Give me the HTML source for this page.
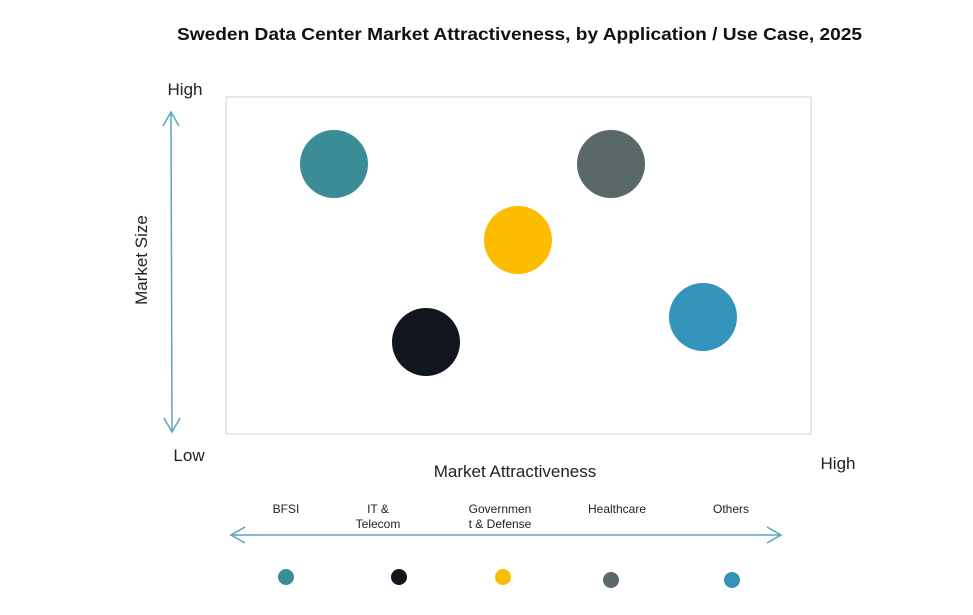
<!DOCTYPE html>
<html><head><meta charset="utf-8"><style>
body{margin:0;background:#fff;}
svg text{font-family:"Liberation Sans",sans-serif;}
</style></head><body>
<svg width="973" height="610" viewBox="0 0 973 610" xmlns="http://www.w3.org/2000/svg">
<rect width="973" height="610" fill="#fff"/>
<text x="177" y="40" textLength="685" lengthAdjust="spacingAndGlyphs" font-size="17.5" font-weight="bold" fill="#111">Sweden Data Center Market Attractiveness,  by Application / Use Case, 2025</text>
<rect x="226" y="97" width="585" height="337" fill="none" stroke="#d9d9d9" stroke-width="1.2"/>
<text x="185" y="95" text-anchor="middle" font-size="17" fill="#222">High</text>
<text x="189" y="461" text-anchor="middle" font-size="17" fill="#222">Low</text>
<text x="838" y="469" text-anchor="middle" font-size="17" fill="#222">High</text>
<text x="515" y="477" text-anchor="middle" font-size="17" fill="#222">Market Attractiveness</text>
<text transform="translate(147,260) rotate(-90)" text-anchor="middle" font-size="17" fill="#222">Market Size</text>
<g stroke="#5ba3bd" stroke-width="1.5" fill="none">
<line x1="171" y1="112" x2="172" y2="432"/>
<polyline points="163,126 171,112 179,126"/>
<polyline points="164,418 172,432 180,418"/>
<line x1="231" y1="535" x2="781" y2="535"/>
<polyline points="245,527 231,535 245,543"/>
<polyline points="767,527 781,535 767,543"/>
</g>
<circle cx="334" cy="164" r="34" fill="#3a8c96"/>
<circle cx="611" cy="164" r="34" fill="#596868"/>
<circle cx="518" cy="240" r="34" fill="#fcbc00"/>
<circle cx="703" cy="317" r="34" fill="#3594bb"/>
<circle cx="426" cy="342" r="34" fill="#11161e"/>
<g font-size="12" fill="#222" text-anchor="middle">
<text x="286" y="513">BFSI</text>
<text x="378" y="513">IT &amp;</text>
<text x="378" y="528">Telecom</text>
<text x="500" y="513">Governmen</text>
<text x="500" y="528">t &amp; Defense</text>
<text x="617" y="513">Healthcare</text>
<text x="731" y="513">Others</text>
</g>
<circle cx="286" cy="577" r="8" fill="#3a8c96"/>
<circle cx="399" cy="577" r="8" fill="#11161e"/>
<circle cx="503" cy="577" r="8" fill="#fcbc00"/>
<circle cx="611" cy="580" r="8" fill="#596868"/>
<circle cx="732" cy="580" r="8" fill="#3594bb"/>
</svg>
</body></html>
